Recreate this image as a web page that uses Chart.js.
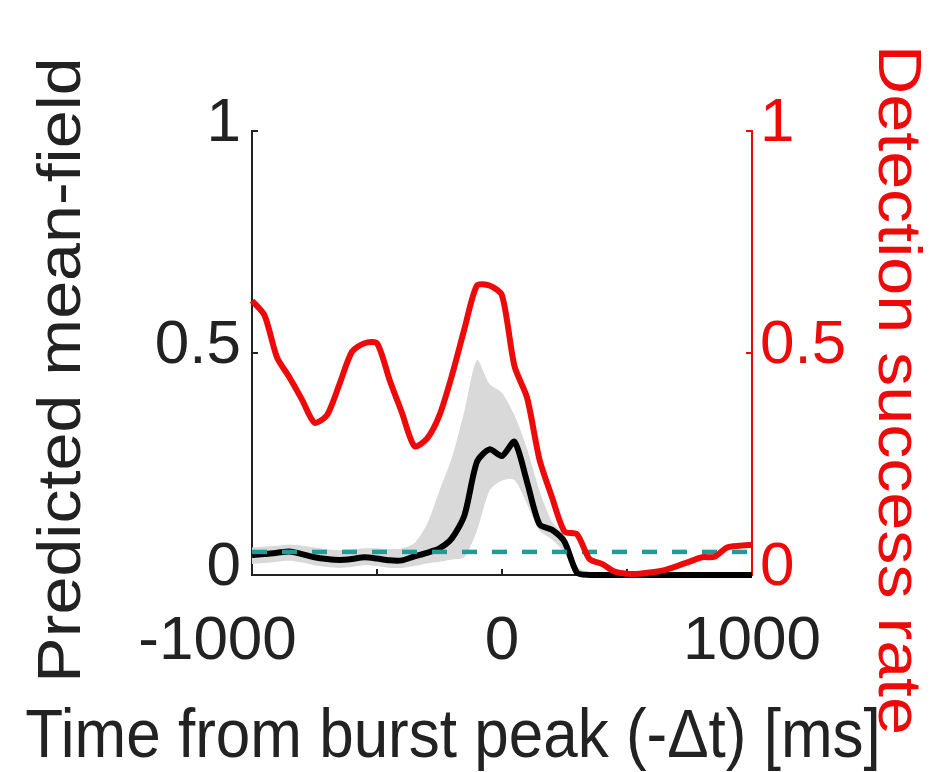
<!DOCTYPE html>
<html>
<head>
<meta charset="utf-8">
<title>Mean-field vs detection</title>
<script src="https://cdn.jsdelivr.net/npm/chart.js@4.4.1/dist/chart.umd.min.js"></script>
<style>
  html, body { margin: 0; padding: 0; background: #fff; }
  #wrap { width: 938px; height: 772px; position: relative; }
</style>
</head>
<body>
<div id="wrap"><canvas id="myChart" width="938" height="772"></canvas></div>
<script>
/* data */

const times = [-1000, -950, -900, -850, -800, -750, -700, -650, -600, -550, -500,
  -450, -400, -350, -300, -250, -200, -150, -100, -50, 0,
  50, 100, 150, 200, 250, 300, 350, 400, 450, 500,
  550, 600, 650, 700, 750, 800, 850, 900, 950, 1000];

// predicted mean-field (black line, left axis)
const meanField = [0.045, 0.047, 0.050, 0.053, 0.047, 0.040, 0.036, 0.034, 0.036, 0.040, 0.037,
  0.033, 0.033, 0.042, 0.050, 0.060, 0.083, 0.135, 0.255, 0.283, 0.268,
  0.300, 0.210, 0.114, 0.102, 0.075, 0.005, 0, 0, 0, 0,
  0, 0, 0, 0, 0, 0, 0, 0, 0, 0];

// grey band around the mean-field
const bandUpper = [0.062, 0.064, 0.066, 0.068, 0.066, 0.062, 0.058, 0.056, 0.058, 0.060, 0.060,
  0.058, 0.060, 0.072, 0.115, 0.190, 0.265, 0.370, 0.484, 0.430, 0.410,
  0.360, 0.285, 0.190, 0.120, 0.090, 0.020, 0.004, 0.004, 0.004, 0.004,
  0.004, 0.004, 0.004, 0.004, 0.004, 0.004, 0.004, 0.004, 0.004, 0.004];
const bandLower = [0.025, 0.027, 0.030, 0.032, 0.028, 0.022, 0.018, 0.016, 0.018, 0.022, 0.020,
  0.016, 0.016, 0.020, 0.026, 0.030, 0.035, 0.040, 0.100, 0.190, 0.213,
  0.214, 0.160, 0.100, 0.080, 0.050, 0, 0, 0, 0, 0,
  0, 0, 0, 0, 0, 0, 0, 0, 0, 0];

// detection success rate (red line, right axis)
const detection = [0.618, 0.585, 0.490, 0.445, 0.395, 0.343, 0.360, 0.430, 0.503, 0.522, 0.522,
  0.440, 0.365, 0.290, 0.307, 0.360, 0.450, 0.555, 0.652, 0.652, 0.630,
  0.470, 0.400, 0.260, 0.175, 0.098, 0.092, 0.036, 0.025, 0.008, 0.003,
  0.003, 0.006, 0.011, 0.020, 0.030, 0.040, 0.041, 0.062, 0.066, 0.068];

// dashed chance level
const chanceLevel = 0.052;
const chanceRange = [-1000, 1000];

const xTickLabels = { '-1000': '-1000    ', '0': '0', '1000': '1000' };
const yTickLabels = { '0': '0', '0.5': '0.5', '1': '1' };

const leftTitle = 'Predicted mean-field';
const rightTitle = 'Detection success rate';
const bottomTitle = 'Time from burst peak (-\u0394t) [ms]';

/* helpers */

function toPoints(values) {
  return times.map(function(t, i) { return { x: t, y: values[i] }; });
}

function yLabel(v) {
  return yTickLabels[String(v)] || '';
}

const FONT = '"Liberation Sans", Arial, Helvetica, sans-serif';
const INK = '#222222';
const RED = '#ec0a0a';

/* axis titles drawn as text, outside the plot area */
const axisTitles = {
  id: 'axisTitles',
  afterDraw(chart) {
    const ctx = chart.ctx;
    ctx.save();
    ctx.font = '62px ' + FONT;
    ctx.textAlign = 'center';
    ctx.textBaseline = 'alphabetic';

    ctx.save();
    ctx.translate(80, 370);
    ctx.rotate(-Math.PI / 2);
    ctx.scale(1.1, 1);
    ctx.fillStyle = INK;
    ctx.fillText(leftTitle, 0, 0);
    ctx.restore();

    ctx.save();
    ctx.translate(879, 390);
    ctx.rotate(Math.PI / 2);
    ctx.scale(1.1, 1);
    ctx.fillStyle = RED;
    ctx.fillText(rightTitle, 0, 0);
    ctx.restore();

    ctx.save();
    ctx.translate(453, 757);
    ctx.scale(1, 1.1);
    ctx.fillStyle = INK;
    ctx.fillText(bottomTitle, 0, 0);
    ctx.restore();

    ctx.restore();
  }
};

var ctx = document.getElementById('myChart').getContext('2d');

// eslint-disable-next-line no-undef
var chart = new Chart(ctx, {
  type: 'line',
  data: {
    datasets: [
      {
        label: 'Detection success rate',
        data: toPoints(detection),
        yAxisID: 'y2',
        borderColor: RED,
        borderWidth: 6,
        pointRadius: 0,
        tension: 0.25,
        fill: false,
        clip: false,
      },
      {
        label: 'Chance',
        data: chanceRange.map(function(t) { return { x: t, y: chanceLevel }; }),
        yAxisID: 'y',
        borderColor: '#1e9c96',
        borderWidth: 4.5,
        borderDash: [15, 15],
        pointRadius: 0,
        fill: false,
      },
      {
        label: 'Predicted mean-field',
        data: toPoints(meanField),
        yAxisID: 'y',
        borderColor: '#000000',
        borderWidth: 6,
        pointRadius: 0,
        tension: 0.25,
        fill: false,
        clip: false,
      },
      {
        label: 'upper',
        data: toPoints(bandUpper),
        yAxisID: 'y',
        borderWidth: 0,
        borderColor: 'rgba(0,0,0,0)',
        backgroundColor: '#d9d9d9',
        pointRadius: 0,
        tension: 0.25,
        fill: '+1',
      },
      {
        label: 'lower',
        data: toPoints(bandLower),
        yAxisID: 'y',
        borderWidth: 0,
        borderColor: 'rgba(0,0,0,0)',
        pointRadius: 0,
        tension: 0.25,
        fill: false,
      }
    ]
  },
  options: {
    responsive: false,
    animation: false,
    events: [],
    layout: { padding: { top: 131, left: 0, right: 0, bottom: 0 } },
    plugins: {
      legend: { display: false },
      tooltip: { enabled: false },
    },
    scales: {
      x: {
        type: 'linear',
        position: 'bottom',
        min: -1000,
        max: 1000,
        afterFit: function(scale) { scale.height = 772 - 575; },
        ticks: {
          stepSize: 500,
          padding: 36,
          maxRotation: 0,
          autoSkip: false,
          color: INK,
          font: { family: FONT, size: 62 },
          callback: function(v) { return xTickLabels[String(v)] || ''; },
        },
        grid: { drawOnChartArea: false, tickLength: -6, tickColor: INK, color: INK, lineWidth: 2 },
        border: { display: true, color: INK, width: 2 },
      },
      y: {
        position: 'left',
        min: 0,
        max: 1,
        afterFit: function(scale) { scale.width = 252; },
        ticks: {
          stepSize: 0.5,
          padding: 17,
          labelOffset: -7,
          color: INK,
          font: { family: FONT, size: 62 },
          callback: yLabel,
        },
        grid: { drawOnChartArea: false, tickLength: -6, tickColor: INK, color: INK, lineWidth: 2 },
        border: { display: true, color: INK, width: 2 },
      },
      y2: {
        position: 'right',
        min: 0,
        max: 1,
        afterFit: function(scale) { scale.width = 938 - 752; },
        ticks: {
          stepSize: 0.5,
          padding: 14,
          labelOffset: -7,
          color: RED,
          font: { family: FONT, size: 62 },
          callback: yLabel,
        },
        grid: { drawOnChartArea: false, tickLength: -6, tickColor: RED, color: RED, lineWidth: 2 },
        border: { display: true, color: RED, width: 2 },
      }
    }
  },
  plugins: [axisTitles],
});
</script>
</body>
</html>
